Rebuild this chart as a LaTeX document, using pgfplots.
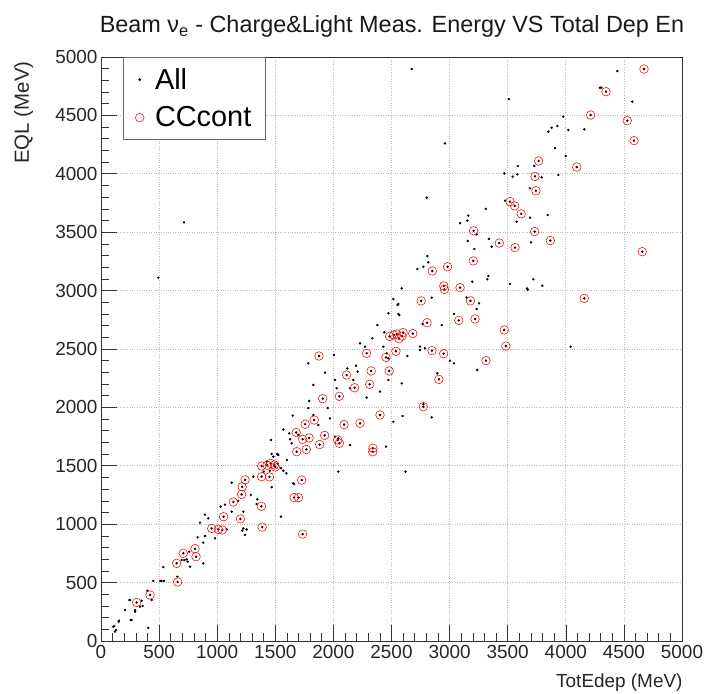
\documentclass[border=0pt]{standalone}
\usepackage{pgfplots}
\usepackage{pgfplotstable}
\pgfplotsset{compat=1.18}
\usepackage{fontspec}
\setmainfont{Liberation Sans}

\pgfplotstableread{
x y
106 122
120 80
129 94
115 128
152 165
155 174
207 265
250 351
244 351
255 180
264 180
293 251
293 265
336 294
350 345
358 300
399 431
407 112
436 351
450 515
510 514
522 514
542 514
536 632
657 550
694 693
717 693
737 699
746 679
760 765
766 636
832 888
852 1013
880 842
880 665
895 1082
895 899
923 1050
981 879
1030 1150
1067 1167
1082 956
1125 1107
1125 1355
1216 945
1225 964
1239 908
1254 955
1225 1107
1311 1407
1340 1173
1345 1213
1180 1200
1290 1250
1400 1450
1520 1520
1550 1480
1600 1550
1426 1535
1454 1458
1463 1721
1469 1601
1469 1317
1483 1578
1517 1601
1526 1592
1549 1064
1569 1458
1569 1811
1596 1436
1620 1778
1627 1727
1641 1693
1650 1929
1655 1350
1661 1343
1698 1764
1784 2377
1784 1994
1792 2055
1827 2192
1827 1935
1870 1849
1928 2297
1951 1994
1971 1906
2005 2449
2014 2235
2014 1750
2028 2163
2042 1735
2042 1450
2120 2334
2143 2163
2143 1678
2171 2235
2195 2357
2209 2306
2229 2549
2272 2520
2286 2084
2335 2592
2378 2705
2401 2135
2430 2520
2438 2643
2453 1664
2459 2463
2473 2806
2473 2420
2473 2235
2516 1877
2516 2928
2552 2877
2559 2800
2559 2885
2567 2791
2588 2206
2588 3020
2596 1926
2621 1450
2636 2440
2674 4897
2722 3185
2745 2491
2745 2520
2768 2714
2774 2027
2774 3204
2788 2506
2803 3795
2808 3296
2817 3242
2846 1915
2846 2939
2894 2292
2932 2705
2960 4260
3003 2400
3038 2377
3038 2800
3090 3577
3147 2941
3153 3599
3156 3425
3161 3642
3195 3076
3213 3356
3233 2842
3233 3482
3238 2320
3253 2890
3311 3699
3325 3097
3334 3125
3339 3442
3362 3376
3471 4003
3477 3770
3511 4640
3520 3057
3543 3976
3577 3590
3583 3995
3588 4067
3666 3018
3672 3008
3692 3875
3692 3624
3700 3413
3721 3097
3729 4067
3793 3970
3798 3042
3844 3647
3850 4361
3878 4395
3907 4219
3927 4409
3936 3990
3978 4489
3999 4152
4022 4375
4042 2520
4159 4381
4294 4737
4305 4737
4443 4880
4572 4617
493 3110
714 3584
}\alltable

\pgfplotstableread{
x y
307 330
422 394
651 665
660 505
708 751
809 790
818 722
953 964
1010 956
1044 950
1055 1064
1139 1190
1200 1045
1210 1255
1215 1320
1240 1380
1380 1153
1387 975
1735 915
1662 1228
1700 1228
1727 1378
1383 1407
1430 1505
1460 1520
1492 1507
1500 1490
1450 1405
1383 1498
1684 1621
1767 1640
1680 1785
1735 1727
1791 1738
1757 1856
1835 1892
1882 1682
1925 1760
1908 2075
1876 2440
2051 2095
2037 1721
2051 1693
2092 1853
2114 2277
2183 2168
2229 1864
2286 2463
2312 2198
2325 2312
2338 1620
2340 1650
2401 1935
2453 2428
2480 2312
2484 2608
2545 2628
2565 2588
2538 2480
2520 2620
2590 2610
2600 2640
2683 2632
2755 2912
2774 2006
2806 2725
2848 2486
2851 3168
2908 2240
2949 2460
2950 3040
2955 3010
2983 3204
3090 3025
3079 2745
3179 2912
3204 3254
3207 3512
3219 2757
3313 2400
3428 3407
3470 2663
3484 2525
3520 3762
3560 3725
3563 3368
3616 3657
3732 3505
3735 3978
3743 3855
3766 4110
3867 3428
4094 4058
4159 2934
4214 4503
4346 4703
4529 4455
4587 4284
4658 3333
4673 4897
}\cctable

\begin{document}
\begin{tikzpicture}
\begin{axis}[
  at={(0,0)}, anchor=south west,
  width=581bp, height=584bp, scale only axis,
  xmin=0, xmax=5000, ymin=0, ymax=5000,
  xtick={0,500,...,5000}, ytick={0,500,...,5000},
  minor tick num=4,
  xtick pos=bottom, ytick pos=left,
  tick align=inside,
  major tick length=16bp, minor tick length=8bp,
  every tick/.style={black!80, line width=0.6bp},
  axis line style={black!80, line width=0.8bp},
  grid=major,
  major grid style={gray!55, dotted, line width=0.7bp},
  /pgf/number format/assume math mode=true,
  /pgf/number format/1000 sep={},
  tick label style={font=\fontsize{19}{21}\selectfont, black!85},
  xticklabel style={yshift=-1bp},
  legend style={
    at={(rel axis cs:0.0379,1)}, anchor=north west,
    draw=black!60, line width=0.8bp,
    font=\fontsize{29}{33}\selectfont,
    row sep=12bp, inner xsep=12bp, inner ysep=9bp,
    cells={anchor=west},
    /tikz/every odd column/.append style={column sep=9bp},
  },
  legend cell align=left,
]
\addplot[only marks, mark=*, mark size=1.0bp, black] table {\alltable};
\addlegendentry{All}
\addplot[only marks, mark=*, mark size=1.0bp, black, forget plot] table {\cctable};
\addplot[only marks, mark=o, mark size=4.3bp, red, line width=0.55bp, mark options={fill=none}] table {\cctable};
\addlegendentry{CCcont}
\end{axis}
\node[anchor=base, font=\fontsize{23.5}{28}\selectfont, black!90] at (291bp,608bp) {Beam ν\textsubscript{e} - Charge\&Light Meas. Energy VS Total Dep En};
\node[anchor=base east, font=\fontsize{19}{22}\selectfont, black!85] at (585bp,-46bp) {TotEdep (MeV)};
\node[anchor=base east, rotate=90, font=\fontsize{20.5}{24}\selectfont, black!85] at (-72bp,583bp) {EQL (MeV)};
\pgfresetboundingbox
\path (-101bp,-53bp) rectangle (607bp,641bp);
\end{tikzpicture}
\end{document}
